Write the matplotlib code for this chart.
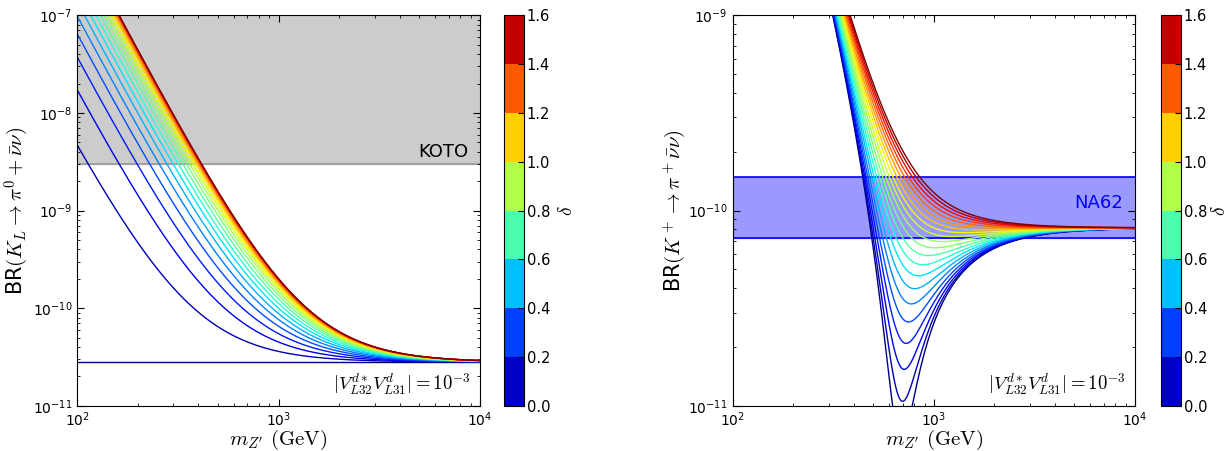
import numpy as np
import matplotlib.pyplot as plt
from matplotlib.colors import ListedColormap, BoundaryNorm
from matplotlib.ticker import NullFormatter

# phase values of the curves, and colorbar bins
delta = [0.0, 0.08, 0.16, 0.24, 0.32, 0.40, 0.48, 0.56, 0.64, 0.72, 0.80,
         0.88, 0.96, 1.04, 1.12, 1.20, 1.28, 1.36, 1.44, 1.52, 1.60]
cbar_levels = [0.0, 0.2, 0.4, 0.6, 0.8, 1.0, 1.2, 1.4, 1.6]

# numbers
kl_sm = 2.8e-11        # flat delta=0 line of K_L
kp_im = 6.5e-12        # imaginary-part share of K+ SM value
kp_re = 7.5e-11        # real-part share of K+ SM value
np_im = 150.0          # NP / SM (imaginary) at m = 100 GeV
np_re = 43.4           # NP / SM (real) at m = 100 GeV
np_log = 0.05          # slow log growth of the NP term with mass
koto_limit = 3.0e-9
na62_low, na62_high = 7.2e-11, 1.48e-10

mass = np.logspace(2, 4, 600)

plt.rcParams['xtick.direction'] = 'in'
plt.rcParams['ytick.direction'] = 'in'
plt.rcParams['xtick.top'] = True
plt.rcParams['ytick.right'] = True
plt.rcParams['xtick.labelsize'] = 10
plt.rcParams['ytick.labelsize'] = 10

fig = plt.figure(figsize=(12.27, 4.51), dpi=100)
ax1 = fig.add_axes([0.0628, 0.1004, 0.3284, 0.8656])
cax1 = fig.add_axes([0.4108, 0.1004, 0.0163, 0.8656])
ax2 = fig.add_axes([0.5971, 0.1004, 0.3279, 0.8656])
cax2 = fig.add_axes([0.9462, 0.1004, 0.0163, 0.8656])

jet = plt.get_cmap('jet')
bin_cmap = ListedColormap(jet((np.arange(8) + 0.5) / 8))
bin_norm = BoundaryNorm(cbar_levels, bin_cmap.N)

u = (100.0 / mass) ** 2 * (1 + np_log * np.log(mass / 100.0))
for d in delta:
    col = jet(d / 1.6)
    im_part = 1 + np_im * np.sin(d) * u
    re_part = 1 - np_re * np.cos(d) * u
    ax1.plot(mass, kl_sm * im_part ** 2, color=col, lw=1.0)
    ax2.plot(mass, kp_im * im_part ** 2 + kp_re * re_part ** 2, color=col, lw=1.0)

# KOTO excluded region
ax1.axhspan(koto_limit, 1e-7, color='0.8', zorder=0)
ax1.axhline(koto_limit, color='0.6', lw=1.2, zorder=0.5)
ax1.text(0.97, koto_limit * 1.08, 'KOTO', transform=ax1.get_yaxis_transform(),
         ha='right', va='bottom', fontsize=13)

# NA62 band
ax2.axhspan(na62_low, na62_high, color=(0.6, 0.6, 1.0), zorder=0)
ax2.axhline(na62_low, color='blue', lw=1.2, zorder=0.5)
ax2.axhline(na62_high, color='blue', lw=1.2, zorder=0.5)
ax2.text(0.97, 1.09e-10, 'NA62', transform=ax2.get_yaxis_transform(),
         ha='right', va='center', fontsize=13, color='blue')

ax1.set_ylim(1e-11, 1e-7)
ax2.set_ylim(1e-11, 1e-9)
ylabels = [r'BR$(K_L\to\pi^0+\bar{\nu}\nu)$', r'BR$(K^+\to\pi^+\bar{\nu}\nu)$']
for ax, yl in zip([ax1, ax2], ylabels):
    ax.set_xscale('log')
    ax.set_yscale('log')
    ax.set_xlim(1e2, 1e4)
    ax.xaxis.set_minor_formatter(NullFormatter())
    ax.yaxis.set_minor_formatter(NullFormatter())
    ax.set_xlabel(r"$m_{Z'}\ (\mathrm{GeV})$", fontsize=15, math_fontfamily='cm', labelpad=-1)
    ax.set_ylabel(yl, fontsize=15, math_fontfamily='cm', labelpad=1)
    ax.tick_params(which='major', length=5)
    ax.tick_params(which='minor', length=2.5)
    ax.text(0.978, 0.022, r'$|V^{d*}_{L32}V^{d}_{L31}| = 10^{-3}$', transform=ax.transAxes,
            ha='right', va='bottom', fontsize=13.5, math_fontfamily='cm')

for cax, pad in [(cax1, 5), (cax2, 2)]:
    sm = plt.cm.ScalarMappable(cmap=bin_cmap, norm=bin_norm)
    cb = fig.colorbar(sm, cax=cax, ticks=cbar_levels, format='%.1f')
    cb.ax.tick_params(labelsize=10.5, direction='in', length=4, pad=2)
    cb.set_label(r'$\delta$', fontsize=14, math_fontfamily='cm', labelpad=pad)

fig.savefig('out.png', dpi=100)
